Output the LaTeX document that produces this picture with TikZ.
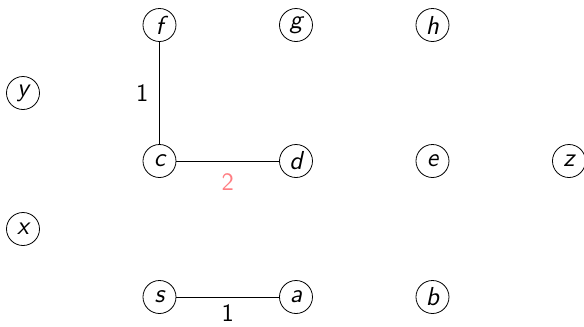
\documentclass[tikz,border=0pt]{standalone}
\usepackage{tikz}
\usetikzlibrary{positioning}
\definecolor{weightPink}{RGB}{255,125,130}
\tikzset{
  vtx/.style={circle,draw,thin,minimum size=16.5pt,inner sep=0pt,font=\fontsize{13}{13}\selectfont\sffamily\itshape},
  wlabel/.style={font=\fontsize{12.5}{12.5}\selectfont\sffamily}
}
\begin{document}
\begin{tikzpicture}[x=68.25pt,y=34pt]
        \useasboundingbox (-0.1685,-0.4265) rectangle (4.110,4.368);
        % vertices
        \node[vtx] (f) at (1,4) {f};
        \node[vtx] (g) at (2,4) {g};
        \node[vtx] (h) at (3,4) {h};
        \node[vtx] (y) at (0,3) {y};
        \node[vtx] (c) at (1,2) {c};
        \node[vtx] (d) at (2,2) {d};
        \node[vtx] (e) at (3,2) {e};
        \node[vtx] (z) at (4,2) {z};
        \node[vtx] (x) at (0,1) {x};
        \node[vtx] (s) at (1,0) {s};
        \node[vtx] (a) at (2,0) {a};
        \node[vtx] (b) at (3,0) {b};
        % weighted edges
        \draw[thin] (f) -- node[wlabel,left=2pt] {1} (c);
        \draw[thin] (c) -- node[wlabel,below=3pt,text=weightPink] {2} (d);
        \draw[thin] (s) -- node[wlabel,below=0.5pt] {1} (a);
      \end{tikzpicture}
\end{document}
